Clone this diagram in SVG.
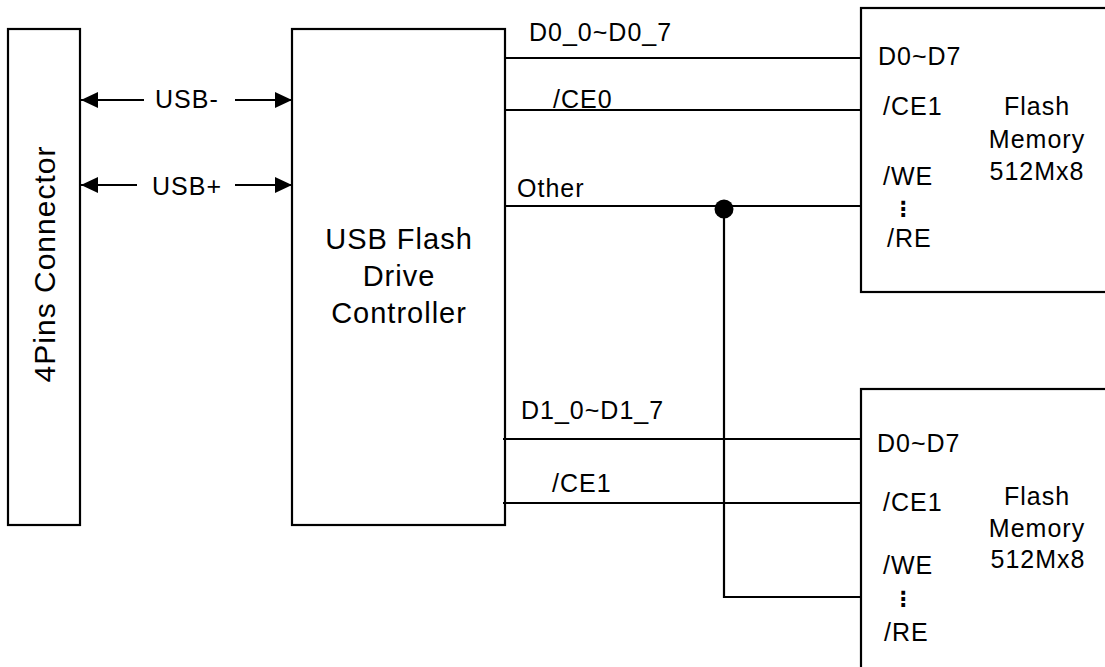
<svg xmlns="http://www.w3.org/2000/svg" width="1105" height="667" viewBox="0 0 1105 667">
<style>
.box{fill:#fff;stroke:#000;stroke-width:2.2}
.wire{fill:none;stroke:#000;stroke-width:2.2}
text{font-family:"Liberation Sans",Arial,sans-serif;fill:#000}
.lbl{font-size:25px;letter-spacing:1px}
.big{font-size:29px;letter-spacing:1px;text-anchor:middle}
.mid{text-anchor:middle}
.vdots{font-family:"DejaVu Sans",sans-serif;font-size:21px;font-weight:bold;text-anchor:middle}
</style>
<defs>
<marker id="ah" viewBox="0 0 17 16" refX="17" refY="8" markerWidth="17" markerHeight="16" markerUnits="userSpaceOnUse" orient="auto-start-reverse">
<path d="M0,0 L17,8 L0,16 Z" fill="#000"/>
</marker>
</defs>
<rect width="1105" height="667" fill="#fff"/>
<g id="connector">
<rect class="box" x="8" y="29" width="72" height="496"/>
<text class="lbl" style="font-size:30px" text-anchor="middle" transform="translate(55,264) rotate(-90)">4Pins Connector</text>
</g>
<g id="controller">
<rect class="box" x="292" y="29" width="213" height="496"/>
<text class="big" x="399" y="249">USB Flash</text>
<text class="big" x="399" y="286">Drive</text>
<text class="big" x="399" y="323">Controller</text>
</g>
<g id="flash1">
<rect class="box" x="861" y="8" width="260" height="284"/>
<text class="lbl" x="878" y="65">D0~D7</text>
<text class="lbl" x="883" y="115">/CE1</text>
<text class="lbl" x="883" y="185">/WE</text>
<text class="vdots" x="903" y="216">⋮</text>
<text class="lbl" x="887" y="247">/RE</text>
<text class="lbl mid" x="1037" y="115">Flash</text>
<text class="lbl mid" x="1037" y="148">Memory</text>
<text class="lbl mid" x="1037" y="180">512Mx8</text>
</g>
<g id="flash2">
<rect class="box" x="861" y="389" width="260" height="290"/>
<text class="lbl" x="877" y="452">D0~D7</text>
<text class="lbl" x="883" y="511">/CE1</text>
<text class="lbl" x="883" y="574">/WE</text>
<text class="vdots" x="903" y="606">⋮</text>
<text class="lbl" x="884" y="641">/RE</text>
<text class="lbl mid" x="1037" y="505">Flash</text>
<text class="lbl mid" x="1037" y="537">Memory</text>
<text class="lbl mid" x="1038" y="568">512Mx8</text>
</g>
<g id="connectors">
<line class="wire" x1="144" y1="100" x2="81" y2="100" marker-end="url(#ah)"/>
<line class="wire" x1="235" y1="100" x2="292" y2="100" marker-end="url(#ah)"/>
<line class="wire" x1="137" y1="185" x2="81" y2="185" marker-end="url(#ah)"/>
<line class="wire" x1="235" y1="185" x2="292" y2="185" marker-end="url(#ah)"/>
<text class="lbl" x="155" y="108">USB-</text>
<text class="lbl" x="152" y="195">USB+</text>
<line class="wire" x1="505" y1="58" x2="861" y2="58"/>
<line class="wire" x1="505" y1="110" x2="861" y2="110"/>
<line class="wire" x1="505" y1="206" x2="861" y2="206"/>
<line class="wire" x1="503" y1="439" x2="861" y2="439"/>
<line class="wire" x1="503" y1="503" x2="861" y2="503"/>
<polyline class="wire" points="724,206 724,597 861,597"/>
<circle cx="724" cy="209" r="9.5" fill="#000"/>
<text class="lbl" x="529" y="41">D0_0~D0_7</text>
<text class="lbl" x="553" y="108">/CE0</text>
<text class="lbl" x="517" y="197">Other</text>
<text class="lbl" x="521" y="419">D1_0~D1_7</text>
<text class="lbl" x="552" y="492">/CE1</text>
</g>
</svg>
